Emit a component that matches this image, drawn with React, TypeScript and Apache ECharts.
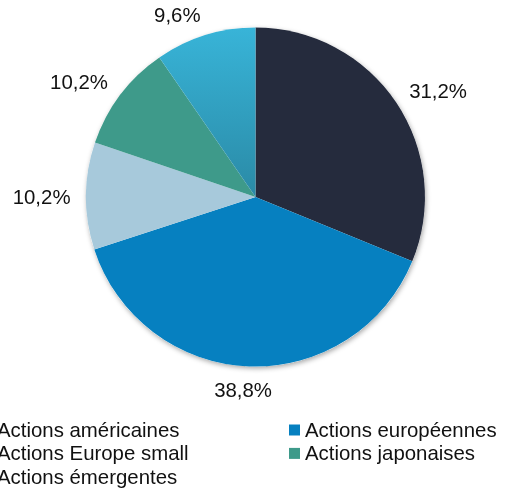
import React, { useEffect, useRef } from "react";
import * as echarts from "echarts";

const categories = [
  "Actions américaines",
  "Actions européennes",
  "Actions Europe small",
  "Actions japonaises",
  "Actions émergentes",
];
const values = [31.2, 38.8, 10.2, 10.2, 9.6];
const leftLegend = ["Actions américaines", "Actions Europe small", "Actions émergentes"];
const rightLegend = ["Actions européennes", "Actions japonaises"];

const FONT = "'Liberation Sans', Arial, sans-serif";
const FONT_SIZE = 20.4;
const TEXT = "#111111";
const CENTER: [number, number] = [255.5, 197];
const RADIUS = 169.5;
const LABEL_RADIUS = 185;

const colors: any[] = [
  "#252B3D",
  "#0680C0",
  "#A7C9DB",
  "#3E9A8A",
  {
    type: "linear",
    x: 0,
    y: 0,
    x2: 0,
    y2: 1,
    colorStops: [
      { offset: 0, color: "#38B4D8" },
      { offset: 1, color: "#2A8AA6" },
    ],
  },
];

const clamp = (v: number) => Math.max(0, Math.min(1, v));

export default function App() {
  const ref = useRef<HTMLDivElement>(null);
  useEffect(() => {
    if (!ref.current) return;
    const chart = echarts.init(ref.current, null, { renderer: "svg" });
    const total = values.reduce((a, b) => a + b, 0);
    const fallbackDir = (i: number) => {
      let before = 0;
      for (let k = 0; k < i; k++) before += values[k];
      const mid = ((before + values[i] / 2) / total) * Math.PI * 2;
      return [Math.sin(mid), -Math.cos(mid)];
    };
    const legendCommon = {
      orient: "vertical",
      top: 420,
      itemGap: 3.4,
      itemWidth: 11,
      itemHeight: 11,
      icon: "rect",
      padding: 0,
      selectedMode: false,
      textStyle: { fontSize: FONT_SIZE, fontFamily: FONT, color: TEXT },
    };
    chart.setOption({
      animation: false,
      legend: [
        { ...legendCommon, left: -19, data: leftLegend },
        { ...legendCommon, left: 289, data: rightLegend },
      ],
      series: [
        {
          type: "pie",
          silent: true,
          center: CENTER,
          radius: RADIUS,
          label: { show: false },
          labelLine: { show: false },
          itemStyle: {
            color: "#ffffff",
            shadowBlur: 5,
            shadowColor: "rgba(0,0,0,0.35)",
            shadowOffsetX: 1,
            shadowOffsetY: 2,
          },
          data: [{ value: 1, name: "__shadow" }],
        },
        {
          type: "pie",
          center: CENTER,
          radius: RADIUS,
          startAngle: 90,
          clockwise: true,
          avoidLabelOverlap: false,
          silent: true,
          data: categories.map((name, i) => ({
            name,
            value: values[i],
            itemStyle: { color: colors[i] },
          })),
          label: {
            show: true,
            position: "outside",
            fontSize: FONT_SIZE,
            fontFamily: FONT,
            color: TEXT,
            formatter: (p: any) => p.value.toFixed(1).replace(".", ",") + "%",
          },
          labelLine: { show: true, length: 10, length2: 0, lineStyle: { opacity: 0 } },
          labelLayout: (params: any) => {
            const pts = params.labelLinePoints;
            let dir: number[];
            if (pts && pts.length >= 2) {
              const dx = pts[1][0] - pts[0][0];
              const dy = pts[1][1] - pts[0][1];
              const len = Math.sqrt(dx * dx + dy * dy) || 1;
              dir = [dx / len, dy / len];
            } else {
              dir = fallbackDir(params.dataIndex);
            }
            const ax = CENTER[0] + LABEL_RADIUS * dir[0];
            const ay = CENTER[1] + LABEL_RADIUS * dir[1];
            const w = params.labelRect.width;
            const h = FONT_SIZE * 0.7;
            const fx = clamp(0.5 - 2.5 * dir[0]);
            const fy = clamp(0.5 - 0.5 * dir[1]);
            const left = ax - fx * w;
            const top = ay - fy * h;
            return {
              x: left + w / 2,
              y: top + h / 2 + 1,
              align: "center",
              verticalAlign: "middle",
            };
          },
        },
      ],
    });
    return () => chart.dispose();
  }, []);
  return (
    <div
      ref={ref}
      style={{ position: "fixed", left: 0, top: 0, width: 509, height: 492 }}
    />
  );
}
